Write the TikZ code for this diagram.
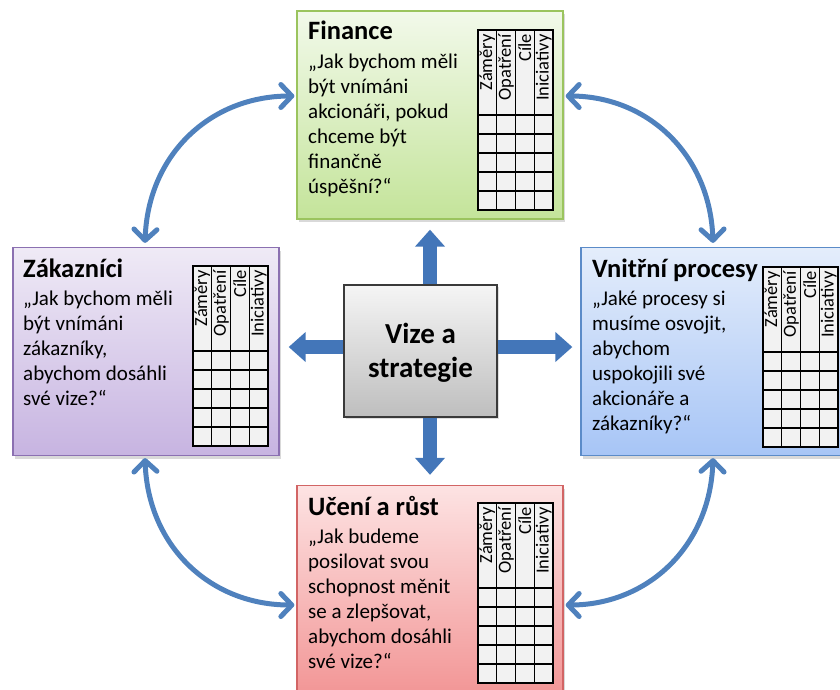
\documentclass[tikz,border=0pt]{standalone}
\usepackage{fontspec}
\setmainfont{Carlito}
\usetikzlibrary{arrows.meta,shadows}

\definecolor{finTop}{HTML}{F2F9EA}
\definecolor{finBot}{HTML}{C4E49A}
\definecolor{finLine}{HTML}{9BC45E}
\definecolor{zakTop}{HTML}{EFEAF6}
\definecolor{zakBot}{HTML}{C7B4E1}
\definecolor{zakLine}{HTML}{8B70B1}
\definecolor{vniTop}{HTML}{E4EDFB}
\definecolor{vniBot}{HTML}{A7C5F6}
\definecolor{vniLine}{HTML}{5B8BC8}
\definecolor{uceTop}{HTML}{FDE3E3}
\definecolor{uceBot}{HTML}{F29696}
\definecolor{uceLine}{HTML}{D26565}
\definecolor{visTop}{HTML}{F5F5F5}
\definecolor{visBot}{HTML}{BEBEBE}
\definecolor{visLine}{HTML}{3A3A3A}
\definecolor{bscBlue}{HTML}{4F81BD}
\definecolor{blockBlue}{HTML}{4376B9}
\definecolor{cellFill}{HTML}{F2F2F2}

% score grid: #1 name prefix, #2/#3 top-left corner
\newcommand\bscgrid[3]{%
  \fill[cellFill] (#2,#3) rectangle (#2+75,#3+180);
  \foreach \cx in {0,18.75,37.5,56.25,75}
    \draw[gridline] (#2+\cx,#3) -- (#2+\cx,#3+180);
  \foreach \ry in {0,85,104,123,142,161,180}
    \draw[gridline] (#2,#3+\ry) -- (#2+75,#3+\ry);
  \foreach \t [count=\k] in {Záměry,Opatření,Cíle,Iniciativy}
    \node[colhead] (#1-\k) at (#2+\k*18.75-9.375,#3+4) {\t};
}

\begin{document}
\begin{tikzpicture}[x=1pt,y=-1pt,
  panel/.style={draw, line width=1.3pt, inner sep=0pt,
    minimum width=266pt, minimum height=208pt,
    drop shadow={shadow xshift=2pt, shadow yshift=-3pt, opacity=0.3}},
  gridline/.style={line width=1.1pt, black, line cap=rect},
  colhead/.style={rotate=90, anchor=east, inner sep=0pt,
    font=\fontsize{18.5}{20}\selectfont},
  ttl/.style={anchor=base west, inner sep=0pt,
    font=\bfseries\fontsize{26.5}{30}\selectfont},
  body/.style={anchor=base west, inner sep=0pt,
    font=\fontsize{21}{25}\selectfont},
  blockarrow/.style={draw=blockBlue, line width=14pt,
    -{Triangle[length=17pt,width=29pt]}},
  ringarrow/.style={draw=bscBlue, line width=5pt,
    {Straight Barb[length=11pt,width=23pt,round]}-{Straight Barb[length=11pt,width=23pt,round]}}
]
\useasboundingbox (0,0) rectangle (840,689);

% four perspectives
\node[panel, draw=finLine, top color=finTop, bottom color=finBot] (fin) at (430,115) {};
\node[panel, draw=zakLine, top color=zakTop, bottom color=zakBot] (zak) at (146,351.5) {};
\node[panel, draw=vniLine, top color=vniTop, bottom color=vniBot] (vni) at (714,351.5) {};
\node[panel, draw=uceLine, top color=uceTop, bottom color=uceBot] (uce) at (430,589.5) {};

% central box
\node[draw=visLine, line width=1.2pt, top color=visTop, bottom color=visBot,
      minimum width=153pt, minimum height=132pt, inner sep=0pt,
      drop shadow={shadow xshift=2pt, shadow yshift=-2pt, opacity=0.25}] (vis) at (420.5,351) {};
\node[anchor=base, inner sep=0pt, font=\bfseries\fontsize{29}{34}\selectfont] (vistxt) at (420.5,343)
  {\begin{tabular}[t]{@{}c@{}}Vize a\\strategie\end{tabular}};

% titles and questions
\node[ttl] (fint) at (308,39) {Finance};
\node[body] (finq) at (308,68) {\begin{tabular}[t]{@{}l@{}}„Jak bychom měli\\být vnímáni\\akcionáři, pokud\\chceme být\\finančně\\úspěšní?“\end{tabular}};

\node[ttl] (zakt) at (23,277) {Zákazníci};
\node[body] (zakq) at (23,305) {\begin{tabular}[t]{@{}l@{}}„Jak bychom měli\\být vnímáni\\zákazníky,\\abychom dosáhli\\své vize?“\end{tabular}};

\node[ttl] (vnit) at (592,277) {Vnitřní procesy};
\node[body] (vniq) at (592,305) {\begin{tabular}[t]{@{}l@{}}„Jaké procesy si\\musíme osvojit,\\abychom\\uspokojili své\\akcionáře a\\zákazníky?“\end{tabular}};

\node[ttl] (ucet) at (308,515) {Učení a růst};
\node[body] (uceq) at (308,543) {\begin{tabular}[t]{@{}l@{}}„Jak budeme\\posilovat svou\\schopnost měnit\\se a zlepšovat,\\abychom dosáhli\\své vize?“\end{tabular}};

% score grids
\bscgrid{fing}{478}{30}
\bscgrid{zakg}{193}{266}
\bscgrid{vnig}{763}{267}
\bscgrid{uceg}{478}{503}

% block arrows from the centre
\coordinate (vl) at ([yshift=4pt]vis.west);
\coordinate (vr) at ([yshift=4pt]vis.east);
\draw[blockarrow, shorten >=10pt] (vis.north -| fin.south) -- (fin.south);
\draw[blockarrow, shorten >=10pt] (vis.south -| uce.north) -- (uce.north);
\draw[blockarrow, shorten >=9pt] (vl) -- (vl -| zak.east);
\draw[blockarrow, shorten >=8pt] (vr) -- (vr -| vni.west);

% ring of double arrows
\draw[ringarrow] ([xshift=-1pt,yshift=4pt]zak.north) .. controls (148,155) and (210,96) .. ([xshift=-2pt,yshift=19pt]fin.west);
\draw[ringarrow] ([xshift=2pt,yshift=19pt]fin.east) .. controls (648,96) and (710,155) .. ([xshift=-1pt,yshift=4pt]vni.north);
\draw[ringarrow] ([xshift=-1pt,yshift=-2pt]zak.south) .. controls (148,546) and (210,605) .. ([xshift=-2pt,yshift=-15.5pt]uce.west);
\draw[ringarrow] ([xshift=-1pt,yshift=-2pt]vni.south) .. controls (710,546) and (648,605) .. ([xshift=2pt,yshift=-15.5pt]uce.east);
\end{tikzpicture}
\end{document}
